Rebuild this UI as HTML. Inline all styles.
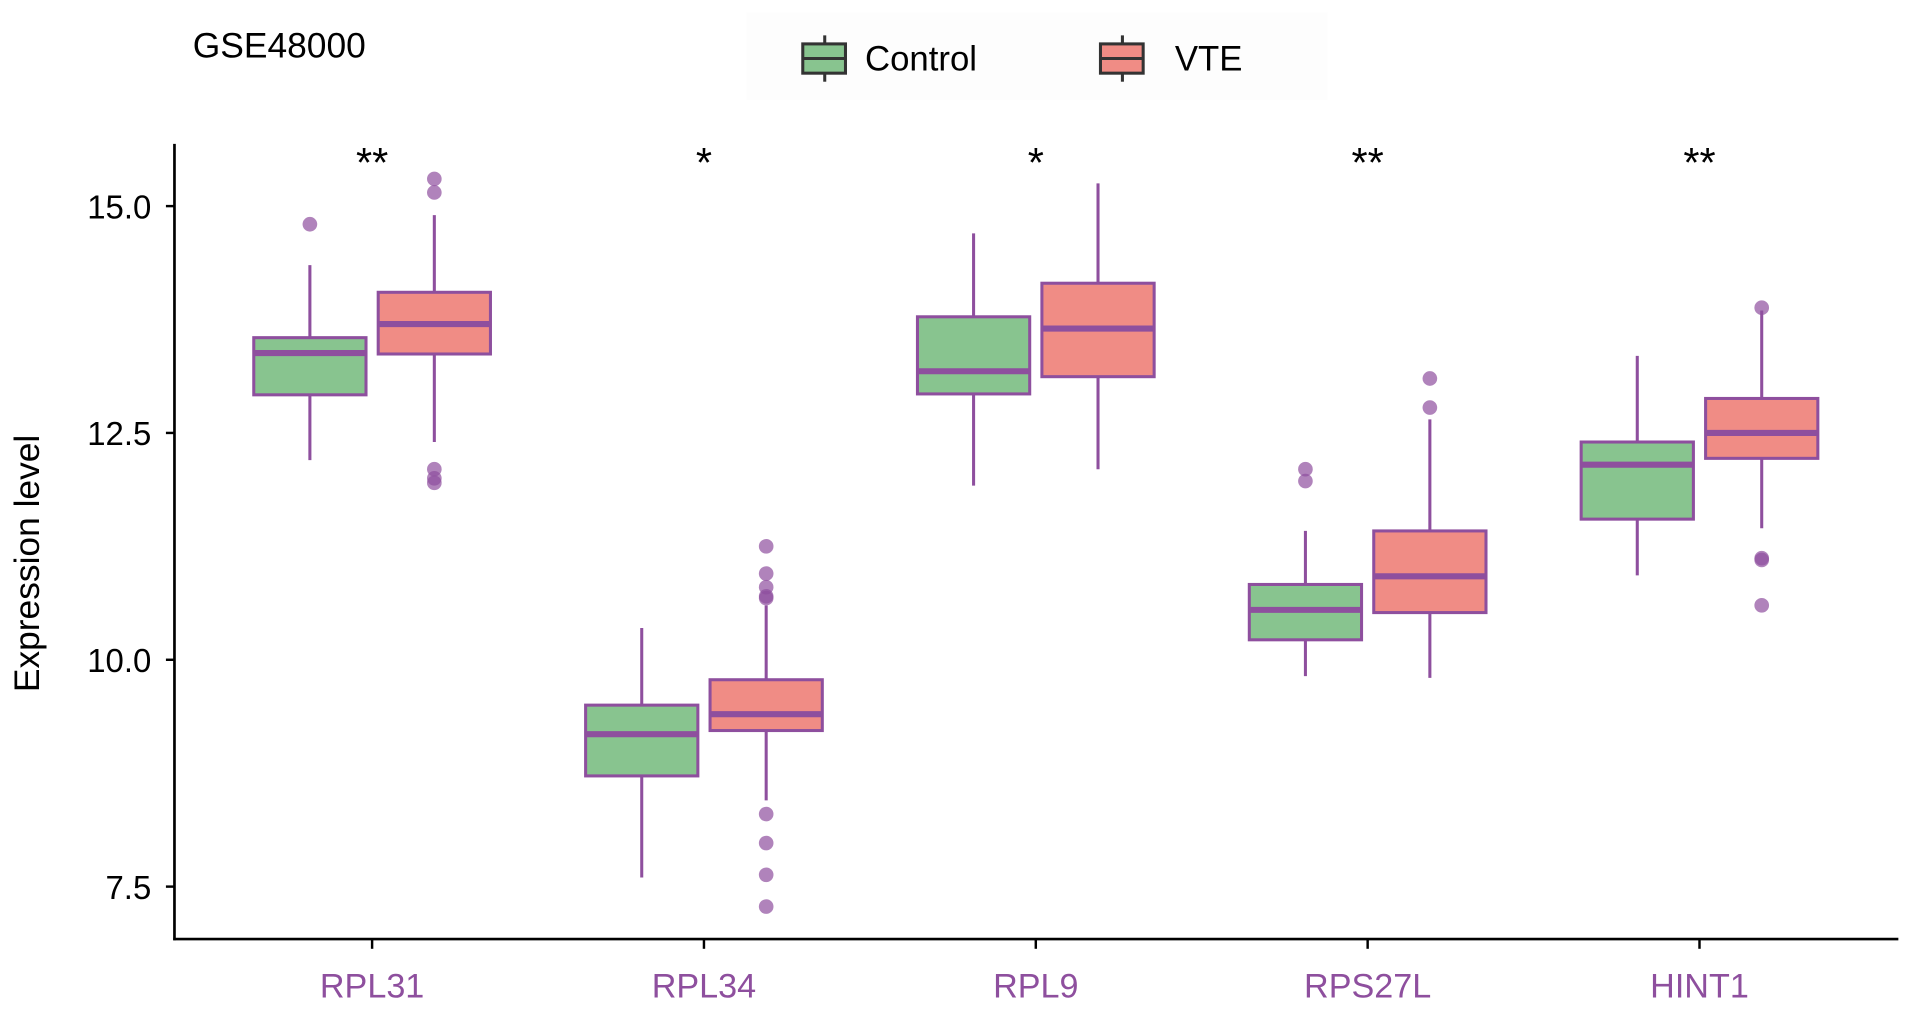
<!DOCTYPE html>
<html><head><meta charset="utf-8"><style>
html,body{margin:0;padding:0;background:#fff;}
svg{display:block;font-family:"Liberation Sans",Arial,sans-serif;}
</style></head><body>
<svg id="chart" width="1913" height="1011" viewBox="0 0 1568 829" preserveAspectRatio="none" xmlns="http://www.w3.org/2000/svg">
<text x="158" y="47" font-size="29" fill="#000">GSE48000</text>
<rect x="612" y="10" width="476" height="72" fill="#fdfdfd"/>
<g>
<line x1="676" y1="29" x2="676" y2="67" stroke="#333" stroke-width="2.5"/>
<rect x="658" y="36" width="35" height="24" fill="#88c48f" stroke="#333" stroke-width="2.5"/>
<line x1="658" y1="48" x2="693" y2="48" stroke="#333" stroke-width="2.5"/>
<text x="709" y="58" font-size="28.5">Control</text></g>
<g>
<line x1="920" y1="29" x2="920" y2="67" stroke="#333" stroke-width="2.5"/>
<rect x="902" y="36" width="35" height="24" fill="#f08c85" stroke="#333" stroke-width="2.5"/>
<line x1="902" y1="48" x2="937" y2="48" stroke="#333" stroke-width="2.5"/>
<text x="963" y="58" font-size="28.5">VTE</text></g>
<text transform="translate(32,462) rotate(-90)" text-anchor="middle" font-size="29">Expression level</text>
<g id="plot"></g>
<line x1="143" y1="118" x2="143" y2="771" stroke="#000" stroke-width="2.2"/>
<line x1="142" y1="770" x2="1556" y2="770" stroke="#000" stroke-width="2.2"/>
</svg>
<script>
const categories=["RPL31","RPL34","RPL9","RPS27L","HINT1"];
const signif=["**","*","*","**","**"];
const yTicks=[7.5,10.0,12.5,15.0];
// [low whisker, q1, median, q3, high whisker]
const controlStats=[[12.2,12.92,13.38,13.55,14.35],[7.6,8.72,9.18,9.5,10.35],[11.92,12.93,13.18,13.78,14.7],[9.82,10.22,10.55,10.83,11.42],[10.93,11.55,12.15,12.4,13.35]];
const vteStats=[[12.4,13.37,13.7,14.05,14.9],[8.45,9.22,9.4,9.78,10.6],[12.1,13.12,13.65,14.15,15.25],[9.8,10.52,10.92,11.42,12.65],[11.45,12.22,12.5,12.88,13.85]];
const controlOutliers=[[14.8],[],[],[12.1,11.97],[]];
const vteOutliers=[[15.3,15.15,12.1,12.0,11.95],[11.25,10.95,10.8,10.7,10.68,8.3,7.98,7.63,7.28],[],[13.1,12.78],[13.88,11.12,11.1,10.6]];
const NS="http://www.w3.org/2000/svg";
const g=document.getElementById('plot');
const y=v=>541-(v-10)*74.4;
const x=i=>305+i*272;
function mk(t,a){const e=document.createElementNS(NS,t);for(const k in a)e.setAttribute(k,a[k]);g.appendChild(e);return e;}
yTicks.forEach(t=>{
 const l=mk('line',{x1:136,x2:143,y1:y(t),y2:y(t),stroke:'#000','stroke-width':2});
 
 
 const tx=mk('text',{x:124,y:y(t)+10,'text-anchor':'end','font-size':27});
 
 
 tx.textContent=t.toFixed(1);
});
categories.forEach((c,i)=>{
 const l=mk('line',{x1:x(i),x2:x(i),y1:770,y2:778,stroke:'#000','stroke-width':2});
 
 
 const tx=mk('text',{x:x(i),y:818,'text-anchor':'middle','font-size':28,fill:'#8e4f9e'});
 
 
 tx.textContent=c;
 const s=mk('text',{x:x(i),y:145,'text-anchor':'middle','font-size':34});
 
 
 s.textContent=signif[i];
 [[controlStats,controlOutliers,-51,'#88c48f','control'],[vteStats,vteOutliers,51,'#f08c85','vte']].forEach(([st,ol,off,col,nm])=>{
  const d=st[i],cx=x(i)+off,w=46;
  const wh=mk('line',{x1:cx,x2:cx,y1:y(d[4]),y2:y(d[0]),stroke:'#8e4f9e','stroke-width':2.5});
  
  
  const b=mk('rect',{x:cx-w,y:y(d[3]),width:2*w,height:y(d[1])-y(d[3]),fill:col,stroke:'#8e4f9e','stroke-width':2.5});
  
  
  const m=mk('line',{x1:cx-w,x2:cx+w,y1:y(d[2]),y2:y(d[2]),stroke:'#8e4f9e','stroke-width':5});
  
  
  ol[i].forEach(v=>{
   const p=mk('circle',{cx:cx,cy:y(v),r:6,fill:'#8e4f9e','fill-opacity':0.7});
   
   
  });
 });
});
</script>
</body></html>
